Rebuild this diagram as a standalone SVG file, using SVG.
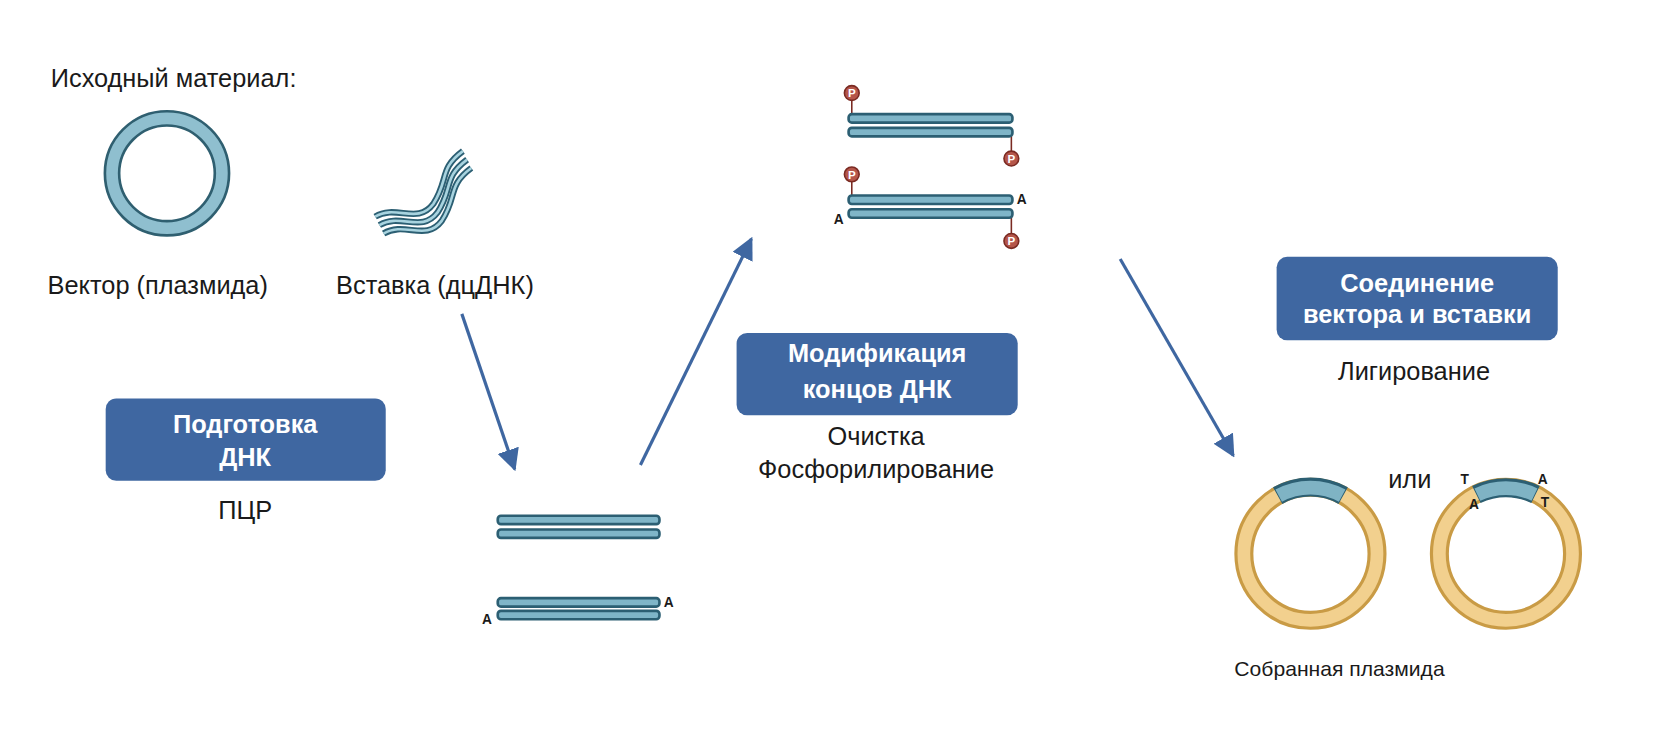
<svg xmlns="http://www.w3.org/2000/svg" width="1657" height="737" viewBox="0 0 1657 737">
<style>
text{font-family:"Liberation Sans",Arial,sans-serif;fill:#1a1a1a}
.lbl{font-size:24px}
.box{fill:#3f67a1}
.bt{font-size:24px;font-weight:bold;fill:#fff;text-anchor:middle}
.bar{fill:#7fb5c8;stroke:#2c5f73;stroke-width:2.5}
.pc{fill:#b5564a;stroke:#7a2a22;stroke-width:1.5}
.pt{font-size:11px;font-weight:bold;fill:#fff;text-anchor:middle}
.a{font-size:13px;font-weight:bold}
.conn{stroke:#3f67a1;stroke-width:3;fill:none;marker-end:url(#ah)}
</style>
<defs>
<marker id="ah" viewBox="0 0 10 10" refX="9" refY="5" markerWidth="7" markerHeight="7" orient="auto" markerUnits="strokeWidth"><path d="M0,0 L10,5 L0,10 z" fill="#3f67a1"/></marker>
</defs>
<rect width="1657" height="737" fill="#fff"/>
<g transform="scale(1.0568)">
<text class="lbl" x="48" y="82">Исходный материал:</text>
<g id="vector">
<circle cx="158" cy="164" r="52" fill="none" stroke="#2f5f70" stroke-width="16"/>
<circle cx="158" cy="164" r="52" fill="none" stroke="#8fbfcf" stroke-width="11"/>
<text class="lbl" x="45" y="278">Вектор (плазмида)</text>
</g>
<g id="insert">
<g fill="none" stroke="#2c5f73" stroke-width="6">
<path d="M355,205 C375,193 395,213 410,193 C425,170 415,160 438,143"/>
<path d="M359,213 C379,201 399,221 414,201 C429,178 419,168 442,151"/>
<path d="M363,221 C383,209 403,229 418,209 C433,186 423,176 446,159"/>
</g>
<g fill="none" stroke="#a8d3df" stroke-width="2.5">
<path d="M355,205 C375,193 395,213 410,193 C425,170 415,160 438,143"/>
<path d="M359,213 C379,201 399,221 414,201 C429,178 419,168 442,151"/>
<path d="M363,221 C383,209 403,229 418,209 C433,186 423,176 446,159"/>
</g>
<text class="lbl" x="318" y="278">Вставка (дцДНК)</text>
</g>
<g id="prep">
<rect class="box" x="100" y="377" width="265" height="78" rx="10"/>
<text class="bt" x="232" y="410">Подготовка</text>
<text class="bt" x="232" y="441">ДНК</text>
<text class="lbl" x="232" y="491" text-anchor="middle">ПЦР</text>
</g>
<g id="pcr-products">
<rect class="bar" x="471" y="488" width="153" height="8" rx="3"/>
<rect class="bar" x="471" y="501" width="153" height="8" rx="3"/>
<rect class="bar" x="471" y="566" width="153" height="8" rx="3"/>
<rect class="bar" x="471" y="578" width="153" height="8" rx="3"/>
<text class="a" x="456" y="590">A</text>
<text class="a" x="628" y="574">A</text>
</g>
<g id="mod">
<rect class="box" x="697" y="315" width="266" height="78" rx="10"/>
<text class="bt" x="830" y="343">Модификация</text>
<text class="bt" x="830" y="377">концов ДНК</text>
<text class="lbl" x="829" y="421" text-anchor="middle">Очистка</text>
<text class="lbl" x="829" y="452" text-anchor="middle">Фосфорилирование</text>
</g>
<g id="mod-products">
<line x1="806" y1="92" x2="806" y2="110" stroke="#7a2a22" stroke-width="1.5"/>
<line x1="957" y1="128" x2="957" y2="146" stroke="#7a2a22" stroke-width="1.5"/>
<line x1="806" y1="168" x2="806" y2="187" stroke="#7a2a22" stroke-width="1.5"/>
<line x1="957" y1="205" x2="957" y2="224" stroke="#7a2a22" stroke-width="1.5"/>
<rect class="bar" x="803" y="108" width="155" height="8" rx="3"/>
<rect class="bar" x="803" y="121" width="155" height="8" rx="3"/>
<rect class="bar" x="803" y="185" width="155" height="8" rx="3"/>
<rect class="bar" x="803" y="198" width="155" height="8" rx="3"/>
<circle class="pc" cx="806" cy="88" r="7"/><text class="pt" x="806" y="92">P</text>
<circle class="pc" cx="957" cy="150" r="7"/><text class="pt" x="957" y="154">P</text>
<circle class="pc" cx="806" cy="165" r="7"/><text class="pt" x="806" y="169">P</text>
<circle class="pc" cx="957" cy="228" r="7"/><text class="pt" x="957" y="232">P</text>
<text class="a" x="789" y="212">A</text>
<text class="a" x="962" y="193">A</text>
</g>
<g id="lig">
<rect class="box" x="1208" y="243" width="266" height="79" rx="10"/>
<text class="bt" x="1341" y="276">Соединение</text>
<text class="bt" x="1341" y="306">вектора и вставки</text>
<text class="lbl" x="1338" y="360" text-anchor="middle">Лигирование</text>
</g>
<g id="plasmid1">
<circle cx="1240" cy="524" r="63" fill="none" stroke="#c99b45" stroke-width="18"/>
<circle cx="1240" cy="524" r="63" fill="none" stroke="#f2d08e" stroke-width="12"/>
<path d="M1209,469 A63,63 0 0 1 1271,469" fill="none" stroke="#2c5f73" stroke-width="18"/>
<path d="M1210,469 A63,63 0 0 1 1270,469" fill="none" stroke="#7fb3c4" stroke-width="13"/>
</g>
<text class="lbl" x="1334" y="462" text-anchor="middle">или</text>
<g id="plasmid2">
<circle cx="1425" cy="524" r="63" fill="none" stroke="#c99b45" stroke-width="18"/>
<circle cx="1425" cy="524" r="63" fill="none" stroke="#f2d08e" stroke-width="12"/>
<path d="M1397,468 A63,63 0 0 1 1453,468" fill="none" stroke="#2c5f73" stroke-width="18"/>
<path d="M1398,468 A63,63 0 0 1 1452,468" fill="none" stroke="#7fb3c4" stroke-width="13"/>
<text class="a" x="1382" y="458" font-size="11">T</text>
<text class="a" x="1390" y="482" font-size="11">A</text>
<text class="a" x="1455" y="458" font-size="11">A</text>
<text class="a" x="1458" y="480" font-size="11">T</text>
</g>
<text x="1168" y="640" font-size="20">Собранная плазмида</text>
<g id="connectors">
<line class="conn" x1="437" y1="297" x2="487" y2="444"/>
<line class="conn" x1="606" y1="440" x2="711" y2="226"/>
<line class="conn" x1="1060" y1="245" x2="1167" y2="431"/>
</g>
</g>
</svg>
